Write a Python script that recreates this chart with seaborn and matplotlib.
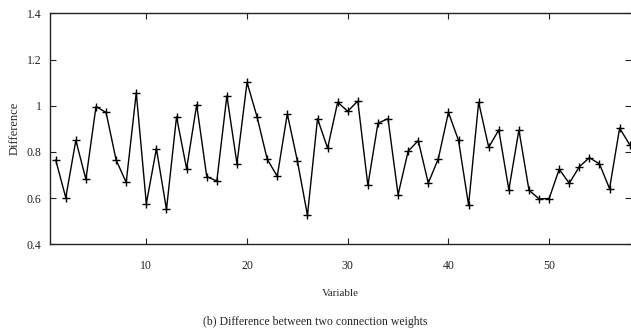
import numpy as np
import pandas as pd
import matplotlib
matplotlib.use("Agg")
import matplotlib.pyplot as plt
import seaborn as sns

# values
variable = list(range(1, 59))
difference = [
    0.765, 0.602, 0.850, 0.681, 0.996, 0.971, 0.765, 0.668, 1.056, 0.576,
    0.814, 0.551, 0.952, 0.727, 1.004, 0.693, 0.674, 1.043, 0.749, 1.101,
    0.951, 0.769, 0.694, 0.965, 0.761, 0.526, 0.944, 0.816, 1.015, 0.976,
    1.020, 0.655, 0.924, 0.944, 0.615, 0.803, 0.849, 0.665, 0.771, 0.971,
    0.850, 0.570, 1.015, 0.820, 0.895, 0.636, 0.895, 0.634, 0.597, 0.598,
    0.725, 0.664, 0.736, 0.775, 0.748, 0.641, 0.903, 0.831,
]
x_ticks = [10, 20, 30, 40, 50]
y_ticks = [0.4, 0.6, 0.8, 1.0, 1.2, 1.4]
y_tick_labels = ["0.4", "0.6", "0.8", "1", "1.2", "1.4"]

df = pd.DataFrame({"Variable": variable, "Difference": difference})

sns.set_style("ticks")
plt.rcParams["font.family"] = ["Liberation Serif", "DejaVu Serif"]

fig = plt.figure(figsize=(6.31, 3.35), dpi=100)
ax = fig.add_axes([50 / 631, (335 - 244.3) / 335, 581 / 631, 231 / 335])

sns.lineplot(data=df, x="Variable", y="Difference", ax=ax, color="black",
             linewidth=1.0, marker="+", markersize=6, markeredgewidth=1.0,
             markeredgecolor="black")

ax.set_xlim(0.434, 58.13)
ax.set_ylim(0.4, 1.4)
ax.set_xticks(x_ticks)
ax.set_yticks(y_ticks)
ax.set_yticklabels(y_tick_labels)

ax.tick_params(direction="in", length=4.5, width=0.8, labelsize=8.5,
               top=True, right=True, colors="#222222")
ax.tick_params(axis="x", pad=11)
ax.tick_params(axis="y", pad=6)
for side in ["left", "top", "bottom"]:
    ax.spines[side].set_linewidth(1.0)
    ax.spines[side].set_color("#222222")
ax.spines["right"].set_visible(False)

ax.set_xlabel("Variable", fontsize=8)
ax.xaxis.set_label_coords(0.5, -(293 - 244.3) / 231, transform=ax.transAxes)
ax.xaxis.label.set_va("center")
ax.set_ylabel("Difference", fontsize=9)
ax.yaxis.set_label_coords((15 - 50) / 581, 0.5, transform=ax.transAxes)
ax.yaxis.label.set_va("center")

fig.text(0.5, (335 - 322) / 335, "(b) Difference between two connection weights",
         ha="center", va="center", fontsize=8.5)

fig.savefig("out.png", dpi=100)
